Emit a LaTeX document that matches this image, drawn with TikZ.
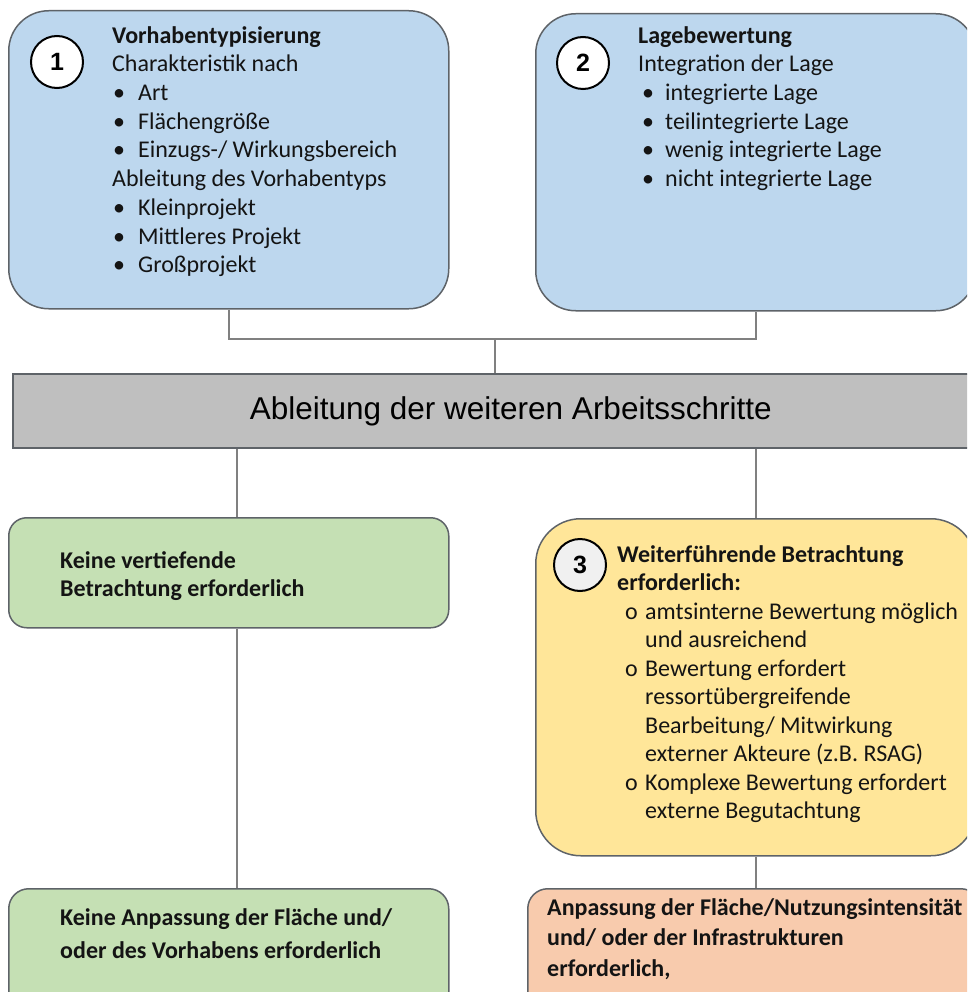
\documentclass[tikz,border=0pt]{standalone}
\usepackage{fontspec}
\setmainfont{Carlito}
\newfontfamily\arialf{Liberation Sans}
\definecolor{boxblue}{HTML}{BDD7EE}
\definecolor{boxgreen}{HTML}{C5E0B4}
\definecolor{boxyellow}{HTML}{FFE699}
\definecolor{boxorange}{HTML}{F8CBAD}
\definecolor{bargray}{HTML}{BFBFBF}
\definecolor{edgegray}{HTML}{5E6368}
\definecolor{linegray}{HTML}{808080}
\definecolor{txt}{HTML}{141414}
\newcommand{\mybul}[1]{\makebox[#1][l]{\hspace{1pt}•}}
\newcommand{\myo}{\hspace*{8pt}\makebox[20pt][l]{o}}
\begin{document}
\begin{tikzpicture}[x=1pt,y=-1pt,
  card/.style={draw=edgegray,line width=1.5pt,anchor=north west,inner sep=0pt},
  txtblock/.style={anchor=north west,inner sep=0pt,align=left,text=txt,
     font=\fontsize{24pt}{28.7pt}\selectfont},
  numcirc/.style={circle,draw=black,line width=2pt,fill=white,minimum size=52pt,
     inner sep=0pt,font=\arialf\bfseries\fontsize{25pt}{27pt}\selectfont},
  conn/.style={draw=linegray,line width=2pt}]
\useasboundingbox (0,0) rectangle (967,992);
\clip (0,0) rectangle (967,992);
% boxes
\node[card,fill=boxblue,rounded corners=40pt,minimum width=440pt,minimum height=298pt] (b1) at (8,10) {};
\node[card,fill=boxblue,rounded corners=40pt,minimum width=440pt,minimum height=297pt] (b2) at (535,13) {};
\node[draw=edgegray,line width=1.5pt,fill=bargray,anchor=north west,minimum width=968pt,minimum height=74pt,inner sep=0pt] (bar) at (12,373) {};
\node[card,fill=boxgreen,rounded corners=18pt,minimum width=440pt,minimum height=110pt] (g1) at (8,517) {};
\node[card,fill=boxyellow,rounded corners=45pt,minimum width=440pt,minimum height=337pt] (y3) at (535,518) {};
\node[card,fill=boxgreen,rounded corners=20pt,minimum width=440pt,minimum height=130pt] (g2) at (8,888) {};
\node[card,fill=boxorange,rounded corners=20pt,minimum width=453pt,minimum height=130pt] (o4) at (527,888) {};
% connectors
\coordinate (j) at (495,339);
\draw[conn] (b1.south) |- (j) -| (b2.south);
\draw[conn] (j) -- (j |- bar.north);
\draw[conn] ([xshift=8pt]bar.south -| g1.north) -- ([xshift=8pt]g1.north);
\draw[conn] (bar.south -| y3.north) -- (y3.north);
\draw[conn] ([xshift=8pt]g1.south) -- ([xshift=8pt]g2.north);
\draw[conn] (y3.south) -- (y3.south |- o4.north);
% circles
\node[numcirc] (c1) at (57,62) {1};
\node[numcirc] (c2) at (583,63) {2};
\node[numcirc,fill=black!6] (c3) at (580,565) {3};
% texts
\node[txtblock] (t1) at (112,23) {\rule{0pt}{20pt}\textbf{Vorhabentypisierung}\\
Charakteristik nach\\
\mybul{26pt}Art\\
\mybul{26pt}Flächengröße\\
\mybul{26pt}Einzugs-/ Wirkungsbereich\\
Ableitung des Vorhabentyps\\
\mybul{26pt}Kleinprojekt\\
\mybul{26pt}Mittleres Projekt\\
\mybul{26pt}Großprojekt};
\node[txtblock] (t2) at (638,23) {\rule{0pt}{20pt}\textbf{Lagebewertung}\\
Integration der Lage\\
\hspace*{3pt}\mybul{24pt}integrierte Lage\\
\hspace*{3pt}\mybul{24pt}teilintegrierte Lage\\
\hspace*{3pt}\mybul{24pt}wenig integrierte Lage\\
\hspace*{3pt}\mybul{24pt}nicht integrierte Lage};
\node[draw=none,anchor=center,inner sep=0pt,text=black,font=\arialf\fontsize{31.5pt}{34pt}\selectfont] (tbar) at ([xshift=14pt,yshift=-1pt]bar.center) {Ableitung der weiteren Arbeitsschritte};
\node[txtblock,font=\bfseries\fontsize{24pt}{28pt}\selectfont] (tg1) at (60,548) {\rule{0pt}{20pt}Keine vertiefende\\Betrachtung erforderlich};
\node[txtblock,font=\fontsize{24pt}{28.5pt}\selectfont] (ty3) at (617,542) {\rule{0pt}{20pt}\textbf{Weiterführende Betrachtung}\\
\textbf{erforderlich:}\\
\myo amtsinterne Bewertung möglich\\
\hspace*{28pt}und ausreichend\\
\myo Bewertung erfordert\\
\hspace*{28pt}ressortübergreifende\\
\hspace*{28pt}Bearbeitung/ Mitwirkung\\
\hspace*{28pt}externer Akteure (z.B. RSAG)\\
\myo Komplexe Bewertung erfordert\\
\hspace*{28pt}externe Begutachtung};
\node[txtblock,font=\bfseries\fontsize{24pt}{33.5pt}\selectfont] (tg2) at (60,905) {\rule{0pt}{20pt}Keine Anpassung der Fläche und/\\oder des Vorhabens erforderlich};
\node[txtblock,font=\bfseries\fontsize{24pt}{30.5pt}\selectfont] (to4) at (547,895) {\rule{0pt}{20pt}Anpassung der Fläche/Nutzungsintensität\\und/ oder der Infrastrukturen\\erforderlich,};
\end{tikzpicture}
\end{document}
